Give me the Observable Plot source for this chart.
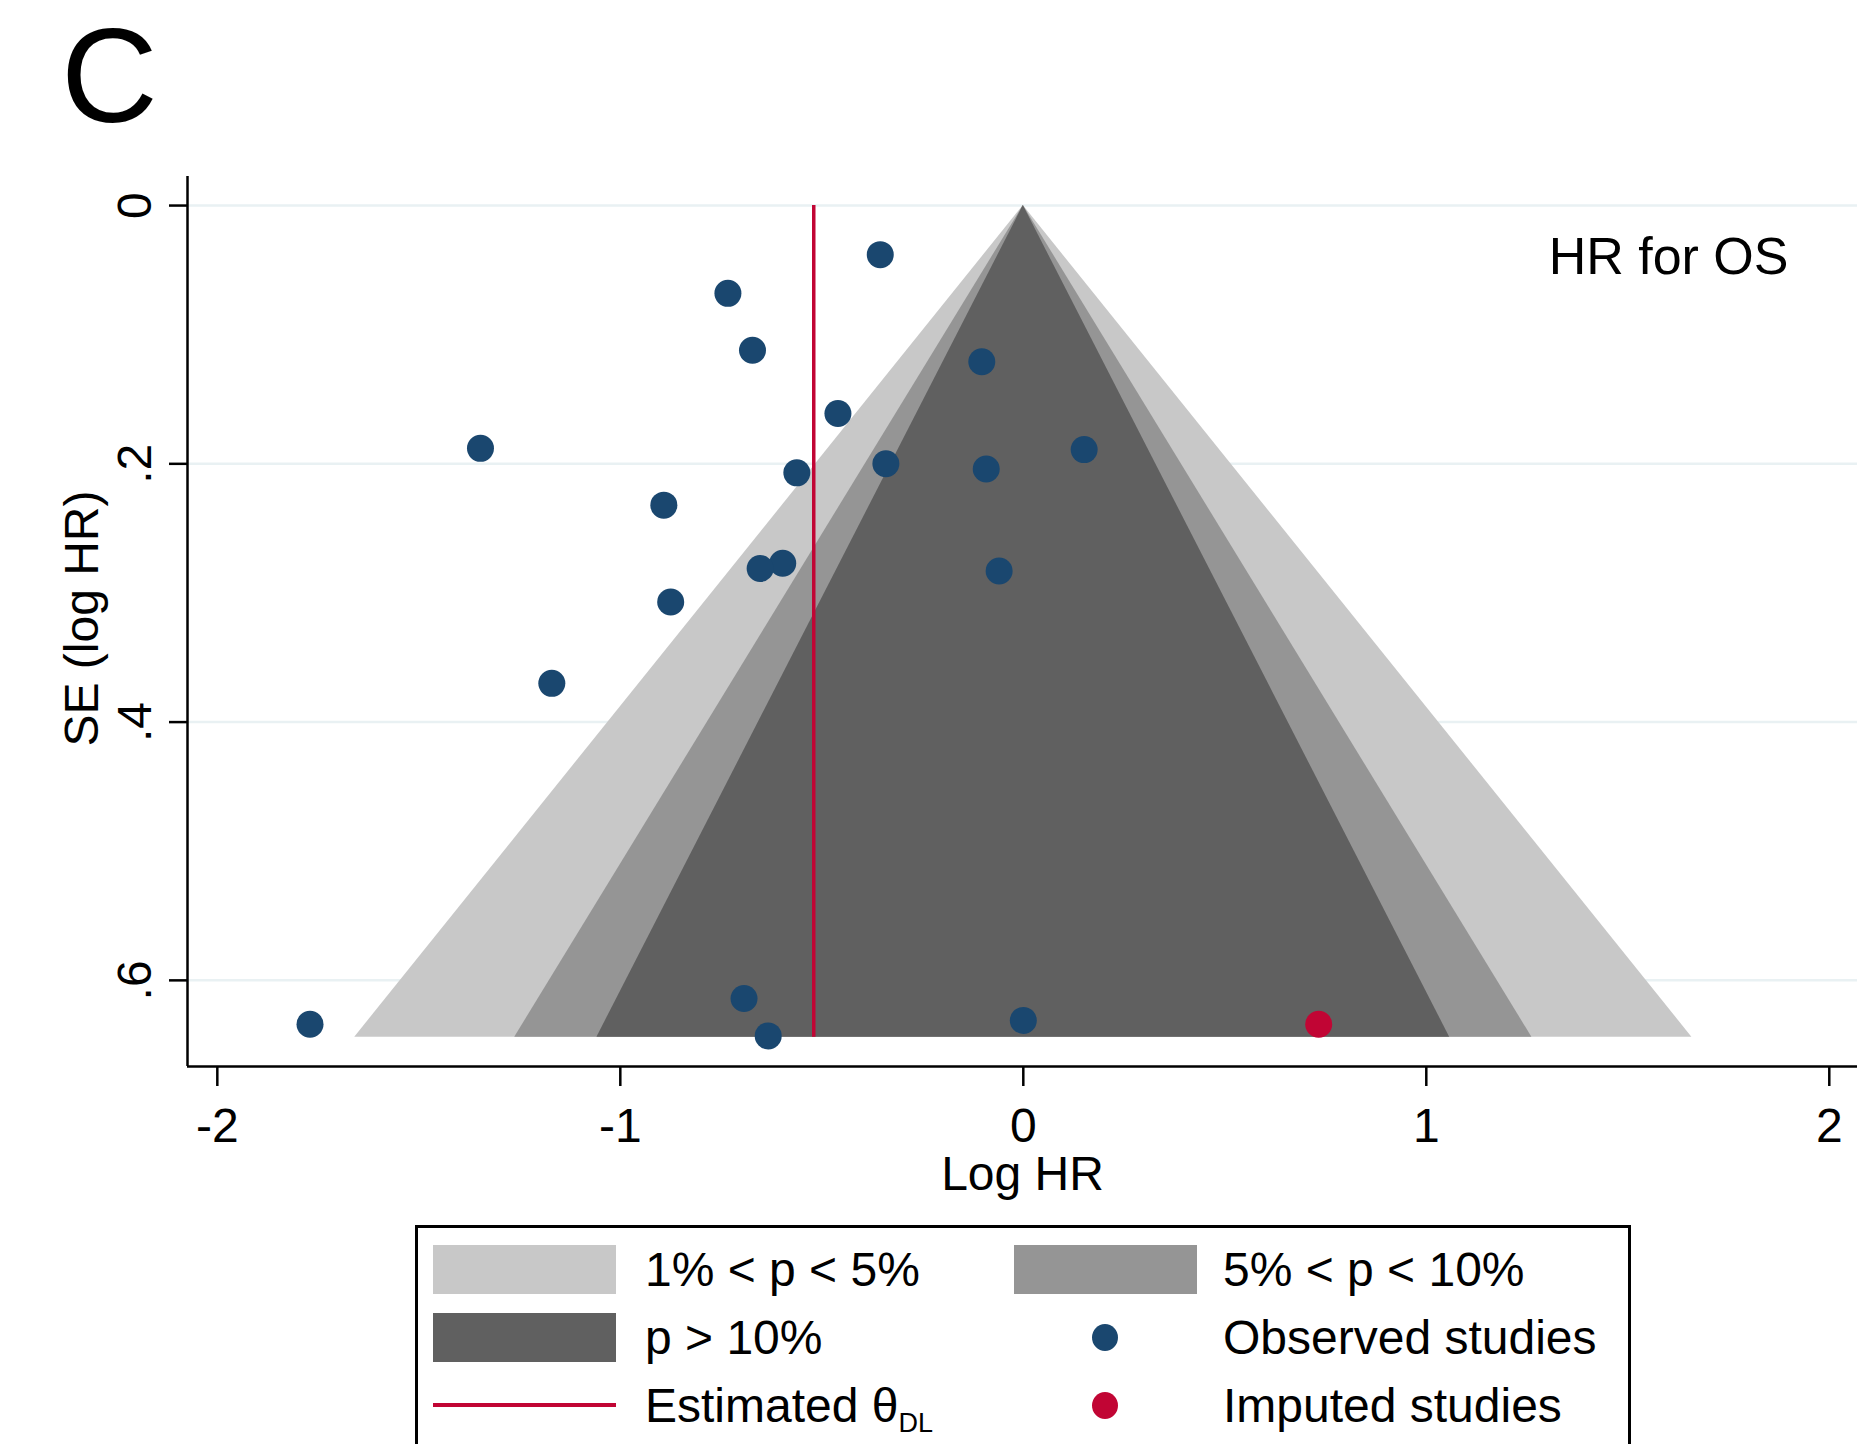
<!DOCTYPE html>
<html>
<head>
<meta charset="utf-8">
<script src="https://cdn.jsdelivr.net/npm/d3@7"></script>
<script src="https://cdn.jsdelivr.net/npm/@observablehq/plot@0.6"></script>
<style>
  html, body { margin: 0; padding: 0; background: #fff; }
  body { width: 1869px; height: 1444px; overflow: hidden; position: relative;
         font-family: "Liberation Sans", Arial, sans-serif; color: #000; }
  #panel { position: absolute; left: 61px; top: 0; font-size: 134px; line-height: 151px; height: 151px; }
  #chart { position: absolute; left: 0; top: 140px; }
  #legend { position: absolute; left: 415px; top: 1225px; width: 1216px; height: 300px;
            box-sizing: border-box; border: 3px solid #000; background: #fff; }
  .item { position: absolute; height: 49px; }
  .sw { position: absolute; left: 0; top: 0; width: 183px; height: 49px; }
  .lab { position: absolute; top: 0; font-size: 48px; line-height: 49px; white-space: nowrap; }
  .lab sub { font-size: 27px; vertical-align: -10px; line-height: 0; }
</style>
</head>
<body>
<div id="panel">C</div>
<div id="chart"></div>
<div id="legend"></div>
<script>
// ---- data ----
const observedLogHR = [-0.355, -0.733, -0.672, -0.103, -0.460, -1.347, 0.151, -0.341, -0.562, -0.092,
                       -0.892, -0.597, -0.653, -0.060, -0.875, -1.170, -0.693, -1.770, -0.633, 0.000];
const observedSE    = [0.038, 0.068, 0.112, 0.121, 0.161, 0.188, 0.189, 0.200, 0.207, 0.204,
                       0.232, 0.277, 0.281, 0.283, 0.307, 0.370, 0.614, 0.634, 0.643, 0.631];
const imputedLogHR = [0.733];
const imputedSE    = [0.634];
const thetaDL = -0.52;
const seMax = 0.644;
// contour half-widths at the bottom of the funnel (1%, 5%, 10% levels)
const contourNames = ["1% < p < 5%", "5% < p < 10%", "p > 10%"];
const contourHalfWidth = [1.659, 1.262, 1.058];
const contourColors = ["#c8c8c8", "#959595", "#606060"];
const xTicks = [-2, -1, 0, 1, 2];
const xTickLabels = ["-2", "-1", "0", "1", "2"];
const yTicks = [0, 0.2, 0.4, 0.6];
const yTickLabels = ["0", ".2", ".4", ".6"];
const xDomain = [-2.074, 2.070];
const yDomain = [-0.0225, 0.6667];
const navy = "#1a476f";
const red = "#c10534";
const gridColor = "#e9f1f3";

const observed = observedLogHR.map((x, i) => ({x, se: observedSE[i]}));
const imputed = imputedLogHR.map((x, i) => ({x, se: imputedSE[i]}));
const funnels = contourHalfWidth.map((hw, i) => ({
  name: contourNames[i], color: contourColors[i],
  rows: [{se: 0, hw: 0}, {se: seMax, hw}]
}));

const chart = Plot.plot({
  width: 1869,
  height: 1080,
  marginLeft: 187,
  marginRight: 12,
  marginTop: 36,
  marginBottom: 154,
  style: {fontFamily: '"Liberation Sans", Arial, sans-serif', fontSize: "48px", color: "#000", background: "#fff"},
  x: {domain: xDomain},
  y: {domain: yDomain, reverse: true},
  marks: [
    Plot.ruleY(yTicks, {stroke: gridColor, strokeWidth: 2.5}),
    ...funnels.map(f => Plot.areaX(f.rows, {y: "se", x1: d => -d.hw, x2: d => d.hw, fill: f.color})),
    Plot.ruleX([thetaDL], {y1: 0, y2: seMax, stroke: red, strokeWidth: 3.5}),
    Plot.dot(observed, {x: "x", y: "se", r: 13.5, fill: navy}),
    Plot.dot(imputed, {x: "x", y: "se", r: 13.5, fill: red}),
    Plot.ruleX([xDomain[0]], {stroke: "#000", strokeWidth: 2.5}),
    Plot.ruleY([yDomain[1]], {stroke: "#000", strokeWidth: 2.5}),
    Plot.axisY({ticks: yTicks, tickFormat: (d, i) => yTickLabels[i], tickRotate: -90, tickSize: 18,
                tickPadding: 19, strokeWidth: 2.5, label: null, fontSize: 48}),
    Plot.axisX({ticks: xTicks, tickFormat: (d, i) => xTickLabels[i], tickSize: 20, tickPadding: 21,
                strokeWidth: 2.5, label: null, fontSize: 48}),
    Plot.text(["SE (log HR)"], {frameAnchor: "left", dx: -89.5, dy: -3, rotate: -90, lineAnchor: "bottom",
                                textAnchor: "middle", fontSize: 48}),
    Plot.text(["Log HR"], {frameAnchor: "bottom", dy: 123, lineAnchor: "bottom", textAnchor: "middle", fontSize: 48}),
    Plot.text(["HR for OS"], {frameAnchor: "top-right", dx: -69, dy: 97, lineAnchor: "bottom", textAnchor: "end", fontSize: 52})
  ]
});
document.getElementById("chart").appendChild(chart);

// ---- legend (HTML) ----
const legendItems = [
  {kind: "swatch", color: contourColors[0], html: contourNames[0]},
  {kind: "swatch", color: contourColors[1], html: contourNames[1]},
  {kind: "swatch", color: contourColors[2], html: contourNames[2]},
  {kind: "dot", color: navy, html: "Observed studies"},
  {kind: "line", color: red, html: "Estimated θ<sub>DL</sub>"},
  {kind: "dot", color: red, html: "Imputed studies"}
];
const legend = document.getElementById("legend");
const colLeft = [15, 596], textOffset = [212, 209], rowTop = [17, 85, 153];
legendItems.forEach((it, i) => {
  const col = i % 2, row = Math.floor(i / 2);
  const el = document.createElement("div");
  el.className = "item";
  el.style.left = colLeft[col] + "px";
  el.style.top = rowTop[row] + "px";
  const sw = document.createElement("div");
  sw.className = "sw";
  if (it.kind === "swatch") sw.style.background = it.color;
  else if (it.kind === "line") sw.innerHTML = `<div style="position:absolute;left:0;top:22px;width:183px;height:4px;background:${it.color}"></div>`;
  else sw.innerHTML = `<div style="position:absolute;left:78px;top:11px;width:26px;height:27px;border-radius:50%;background:${it.color}"></div>`;
  el.appendChild(sw);
  const lab = document.createElement("div");
  lab.className = "lab";
  lab.style.left = textOffset[col] + "px";
  lab.innerHTML = it.html.replace(/</g, (m, off, s) => s.startsWith("<sub", off) || s.startsWith("</sub", off) ? "<" : "&lt;");
  el.appendChild(lab);
  legend.appendChild(el);
});
</script>
</body>
</html>
